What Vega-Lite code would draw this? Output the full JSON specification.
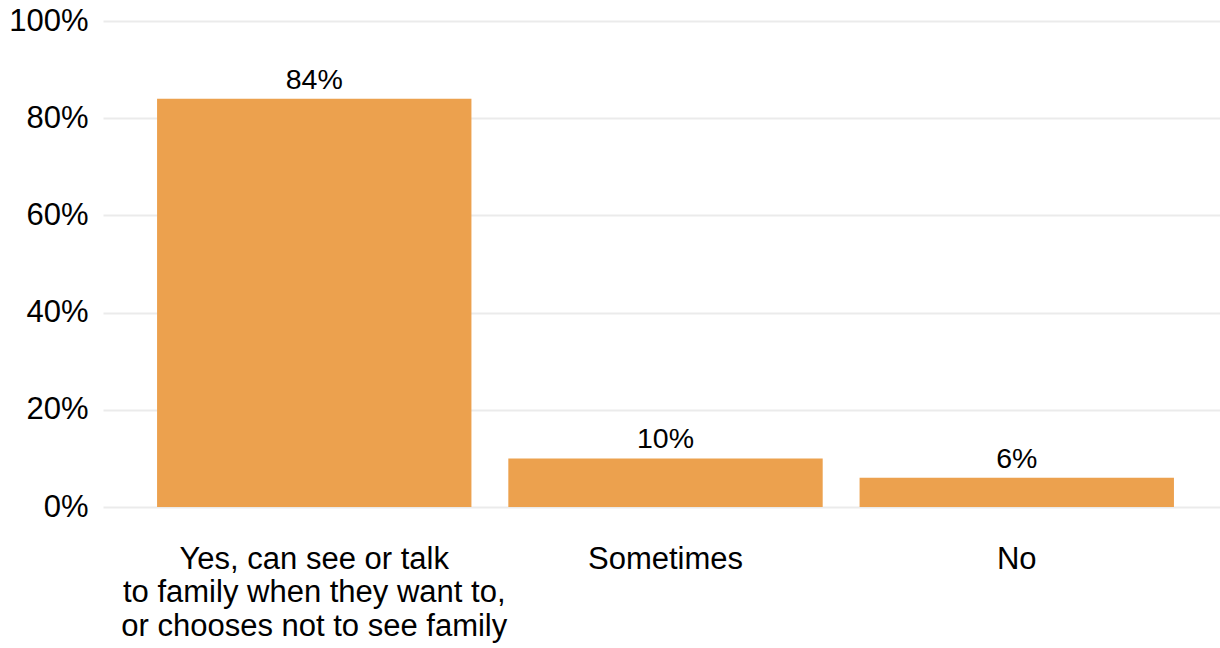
{
  "$schema": "https://vega.github.io/schema/vega-lite/v6.json",
  "width": 1117,
  "height": 486,
  "autosize": {"type": "none"},
  "padding": {"left": 103, "top": 21, "right": 0, "bottom": 141},
  "background": "white",
  "config": {
    "view": {"stroke": null},
    "font": "Liberation Sans"
  },
  "data": {
    "values": [
      {"response": "Yes, can see or talk\nto family when they want to,\nor chooses not to see family", "share": 0.84},
      {"response": "Sometimes", "share": 0.10},
      {"response": "No", "share": 0.06}
    ]
  },
  "encoding": {
    "x": {
      "field": "response",
      "type": "nominal",
      "sort": null,
      "scale": {"paddingInner": 0.105, "paddingOuter": 0.1425, "align": 0.54},
      "axis": {
        "title": null,
        "labelAngle": 0,
        "labelExpr": "split(datum.label, '\\n')",
        "labelFont": "Liberation Sans",
        "labelFontSize": 31,
        "labelColor": "#000000",
        "labelLineHeight": 33.5,
        "labelPadding": 37,
        "labelBaseline": "top",
        "ticks": false,
        "domain": false,
        "grid": false,
        "labelLimit": 0
      }
    },
    "y": {
      "field": "share",
      "type": "quantitative",
      "scale": {"domain": [0, 1], "nice": false, "zero": true},
      "axis": {
        "title": null,
        "format": ".0%",
        "values": [0, 0.2, 0.4, 0.6, 0.8, 1],
        "labelFont": "Liberation Sans",
        "labelFontSize": 31,
        "labelColor": "#000000",
        "labelPadding": 15,
        "ticks": false,
        "domain": false,
        "grid": true,
        "gridColor": "#ebebeb",
        "gridWidth": 2
      }
    }
  },
  "layer": [
    {"mark": {"type": "bar", "color": "#eca14e"}},
    {
      "mark": {"type": "text", "baseline": "alphabetic", "dy": -10, "fontSize": 28.5, "font": "Liberation Sans", "color": "#000000"},
      "encoding": {"text": {"field": "share", "type": "quantitative", "format": ".0%"}}
    }
  ]
}
